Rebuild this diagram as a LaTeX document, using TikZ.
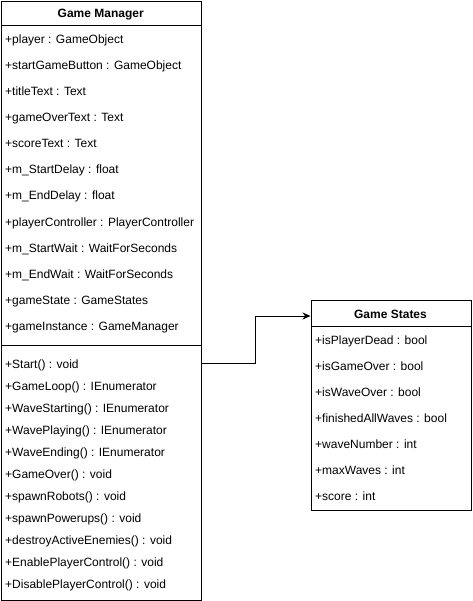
\documentclass[tikz,border=0pt]{standalone}
\usepackage{fontspec}
\setmainfont{Liberation Sans}
\usetikzlibrary{arrows.meta}
\begin{document}
\begin{tikzpicture}[x=1pt,y=-1pt,
  box/.style={draw=black, line width=1pt, fill=white, anchor=north west, inner sep=0pt},
  attr/.style={anchor=base west, inner sep=0pt, font=\fontsize{12}{14}\selectfont},
  ttl/.style={anchor=base, inner sep=0pt, font=\fontsize{12}{14}\selectfont\bfseries},
  sep/.style={draw=black, line width=1pt},
  conn/.style={draw=black, line width=1pt, -{Stealth[length=8pt,width=7pt,inset=2.5pt]}}
]
\useasboundingbox (0,0) rectangle (472,601);
% Game Manager
\node[box, minimum width=199.5pt, minimum height=599pt] (gm) at (1,1) {};
\draw[sep] (1,26) -- (200.5,26);
\draw[sep] (1,345) -- (200.5,345);
\node[ttl] (gmt) at (100.75,18) {Game Manager};
\node[attr] (a1) at (5,44) {+player : GameObject};
\node[attr] (a2) at (5,70) {+startGameButton : GameObject};
\node[attr] (a3) at (5,96) {+titleText : Text};
\node[attr] (a4) at (5,122) {+gameOverText : Text};
\node[attr] (a5) at (5,148) {+scoreText : Text};
\node[attr] (a6) at (5,174) {+m\_StartDelay : float};
\node[attr] (a7) at (5,200) {+m\_EndDelay : float};
\node[attr] (a8) at (5,226) {+playerController : PlayerController};
\node[attr] (a9) at (5,252) {+m\_StartWait : WaitForSeconds};
\node[attr] (a10) at (5,278) {+m\_EndWait : WaitForSeconds};
\node[attr] (a11) at (5,304) {+gameState : GameStates};
\node[attr] (a12) at (5,330) {+gameInstance : GameManager};
\node[attr] (m1) at (5,368) {+Start() : void};
\node[attr] (m2) at (5,390) {+GameLoop() : IEnumerator};
\node[attr] (m3) at (5,412) {+WaveStarting() : IEnumerator};
\node[attr] (m4) at (5,434) {+WavePlaying() : IEnumerator};
\node[attr] (m5) at (5,456) {+WaveEnding() : IEnumerator};
\node[attr] (m6) at (5,478) {+GameOver() : void};
\node[attr] (m7) at (5,500) {+spawnRobots() : void};
\node[attr] (m8) at (5,522) {+spawnPowerups() : void};
\node[attr] (m9) at (5,544) {+destroyActiveEnemies() : void};
\node[attr] (m10) at (5,566) {+EnablePlayerControl() : void};
\node[attr] (m11) at (5,588) {+DisablePlayerControl() : void};
% Game States
\node[box, minimum width=160pt, minimum height=210pt] (gs) at (310.5,300) {};
\draw[sep] (310.5,326) -- (470.5,326);
\node[ttl] (gst) at (390.5,318) {Game States};
\node[attr] (s1) at (315,344) {+isPlayerDead : bool};
\node[attr] (s2) at (315,370) {+isGameOver : bool};
\node[attr] (s3) at (315,396) {+isWaveOver : bool};
\node[attr] (s4) at (315,422) {+finishedAllWaves : bool};
\node[attr] (s5) at (315,448) {+waveNumber : int};
\node[attr] (s6) at (315,474) {+maxWaves : int};
\node[attr] (s7) at (315,500) {+score : int};
% connector
\coordinate (from) at (gm.east |- 0,363);
\coordinate (to) at (gs.west |- 0,316);
\draw[conn] (from) -- (255,363) |- (to);
\end{tikzpicture}
\end{document}
